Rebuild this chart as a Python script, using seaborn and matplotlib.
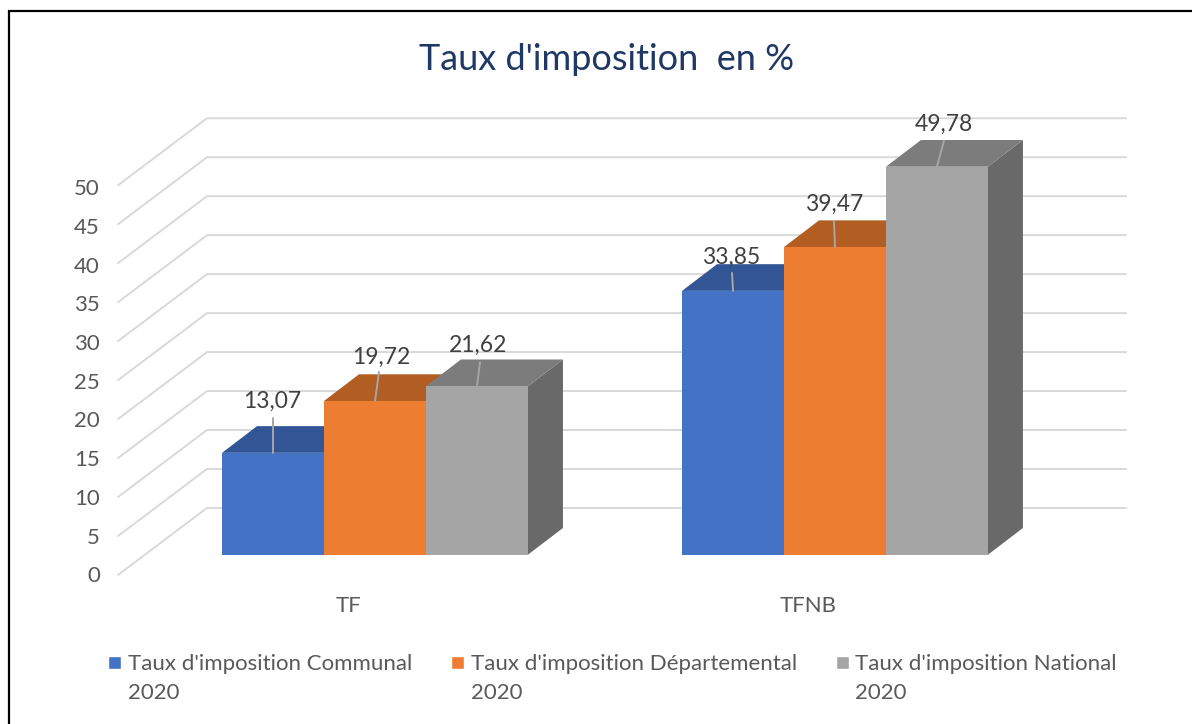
"""
Taux d'imposition en % : pseudo 3D bar chart drawn on top of a seaborn barplot
"""

import matplotlib
matplotlib.use('Agg')
import matplotlib.pyplot as plt
import pandas as pd
import seaborn as sns
from matplotlib.legend_handler import HandlerPatch
from matplotlib.lines import Line2D
from matplotlib.patches import Patch, Polygon, Rectangle

CATEGORIES = ['TF', 'TFNB']
SERIES = ['Taux d\'imposition Communal\n2020',
          'Taux d\'imposition Départemental\n2020',
          'Taux d\'imposition National\n2020']
COMMUNAL = [13.07, 33.85]
DEPARTEMENTAL = [19.72, 39.47]
NATIONAL = [21.62, 49.78]
TICKS = [0, 5, 10, 15, 20, 25, 30, 35, 40, 45, 50]

FRONT = ['#4472C4', '#ED7D31', '#A5A5A5']
TOP = ['#325695', '#B25D22', '#7C7C7C']
SIDE = ['#2B4A80', '#9A4F1D', '#696969']
TEXT = '#595959'

W, H = 1192, 724
# bar plane in pixels: x=-0.5 at 145, x=1.5 at 1065, y=0 at 554.7, y=50 at 165
AX_LEFT, AX_RIGHT, AX_BOTTOM, AX_TOP = 145, 1065, 554.7, 165
DEPTH_X = 35 / 460
DEPTH_Y = 26.7 / 7.794
# label centre and leader top, as shift in pixels from the front top centre of a bar
LABEL_SHIFT = [[(-1, 51), (6, 44), (1, 41)], [(-2, 34), (-1, 43), (7, 42)]]
LEADER_TOP = [[(0, 35), (4, 29), (3, 24)], [(-1, 18), (-1, 26), (7, 26)]]


def legend_square(legend, orig_handle, xdescent, ydescent, width, height, fontsize):
    """Small square next to the first line of a two line legend entry"""
    return Rectangle((0, 12.8), 9.4, 9.4, facecolor=orig_handle.get_facecolor(),
                     edgecolor='none')


def draw_walls(ax):
    """Light lines going from the front edge to the back wall for each tick"""
    for t in TICKS:
        ax.plot([-0.5587, -0.3652, 1.633], [t - 2.6, t + 6, t + 6],
                color='#D9D9D9', lw=1.4, solid_joinstyle='miter',
                clip_on=False, zorder=1)


def draw_depth(ax):
    """Add the side and top faces behind every seaborn bar, with its leader and label"""
    sx = (AX_RIGHT - AX_LEFT) / 2
    sy = (AX_BOTTOM - AX_TOP) / 50
    for s, container in enumerate(ax.containers):
        for c, bar in enumerate(container):
            x0 = bar.get_x()
            x1 = x0 + bar.get_width()
            v = bar.get_height()
            bar.set_zorder(3 + s + 0.5)
            side = [(x1, 0), (x1 + DEPTH_X, DEPTH_Y), (x1 + DEPTH_X, v + DEPTH_Y), (x1, v)]
            top = [(x0, v), (x0 + DEPTH_X, v + DEPTH_Y), (x1 + DEPTH_X, v + DEPTH_Y), (x1, v)]
            ax.add_patch(Polygon(side, facecolor=SIDE[s], edgecolor='none',
                                 clip_on=False, zorder=3 + s))
            ax.add_patch(Polygon(top, facecolor=TOP[s], edgecolor='none',
                                 clip_on=False, zorder=3 + s))
            xm = (x0 + x1) / 2
            lx, ly = LEADER_TOP[c][s]
            ax.plot([xm, xm + lx / sx], [v, v + ly / sy], color='#A6A6A6', lw=1.4,
                    clip_on=False, zorder=20)
            tx, ty = LABEL_SHIFT[c][s]
            ax.text(xm + tx / sx, v + ty / sy, f'{v:.2f}'.replace('.', ','),
                    ha='center', va='center', fontsize=16.5, color='#404040', zorder=21)


def main():
    sns.set_theme(style='white')
    plt.rcParams['font.family'] = ['Lato', 'DejaVu Sans']

    df = pd.DataFrame({
        'impot': CATEGORIES * 3,
        'serie': [SERIES[0]] * 2 + [SERIES[1]] * 2 + [SERIES[2]] * 2,
        'taux': COMMUNAL + DEPARTEMENTAL + NATIONAL,
    })

    fig = plt.figure(figsize=(W / 100, H / 100), dpi=100, facecolor='white')
    ax = fig.add_axes([AX_LEFT / W, 1 - AX_BOTTOM / H,
                       (AX_RIGHT - AX_LEFT) / W, (AX_BOTTOM - AX_TOP) / H])
    sns.barplot(data=df, x='impot', y='taux', hue='serie', palette=FRONT, order=CATEGORIES,
                hue_order=SERIES, width=0.665, gap=0, saturation=1, legend=False,
                linewidth=0, ax=ax)
    ax.set_xlim(-0.5, 1.5)
    ax.set_ylim(0, 50)
    ax.patch.set_visible(False)
    sns.despine(ax=ax, left=True, bottom=True)
    ax.set_xlabel('')
    ax.set_ylabel('')
    ax.set_yticks([])
    # category names sit on the floor edge, left of the bar groups
    ax.set_xticks([-27 / 460, 1 - 27 / 460], CATEGORIES)
    ax.tick_params(axis='x', length=0, pad=30, labelsize=16, labelcolor=TEXT)

    draw_walls(ax)
    draw_depth(ax)

    # the value axis stands in front of the floor, lower than the bars
    front = fig.add_axes([100 / W, 1 - (AX_BOTTOM + 19.5) / H,
                          0.01, 387 / H])
    front.patch.set_visible(False)
    front.set_ylim(0, 50)
    front.set_xticks([])
    front.set_yticks(TICKS)
    front.tick_params(axis='y', length=0, pad=0, labelsize=16, labelcolor=TEXT)
    sns.despine(ax=front, left=True, bottom=True)

    fig.text(607 / W, 1 - 60 / H, 'Taux d\'imposition  en %', ha='center', va='center',
             fontsize=26, color='#1F3864')

    handles = [Patch(facecolor=col) for col in FRONT]
    leg = fig.legend(handles, SERIES, ncol=3, frameon=False, loc='upper left',
                     bbox_to_anchor=(108 / W, 1 - 654 / H), borderaxespad=0, borderpad=0,
                     handlelength=0.58, handletextpad=0.31, columnspacing=1.75,
                     fontsize=16, labelcolor=TEXT,
                     handler_map={Patch: HandlerPatch(patch_func=legend_square)})
    for t in leg.get_texts():
        t.set_linespacing(1.55)

    # border of the screenshot: only left and top sides are visible
    fig.add_artist(Line2D([8.5 / W, 8.5 / W, 1], [0, 1 - 10.5 / H, 1 - 10.5 / H],
                          color='black', lw=1.6, solid_joinstyle='miter'))

    fig.savefig('out.png', dpi=100)


if __name__ == '__main__':
    main()
